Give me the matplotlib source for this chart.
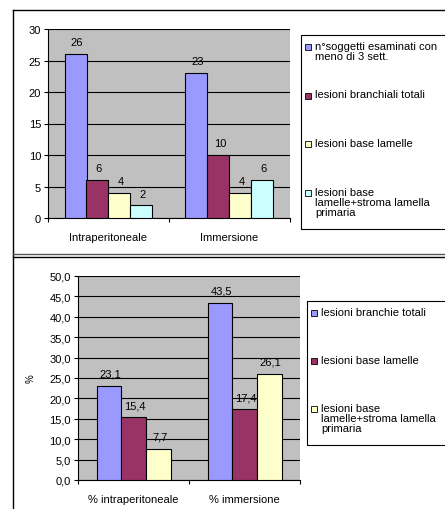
import numpy as np
import matplotlib
matplotlib.use("Agg")
import matplotlib.pyplot as plt
from matplotlib.patches import Rectangle
from matplotlib.lines import Line2D

plt.rcParams["font.family"] = ["Liberation Sans", "DejaVu Sans"]

# --- dati grafico 1 (numero soggetti) ---
cat1 = ["Intraperitoneale", "Immersione"]
ser1 = ["n°soggetti esaminati con\nmeno di 3 sett.",
        "lesioni branchiali totali",
        "lesioni base lamelle",
        "lesioni base\nlamelle+stroma lamella\nprimaria"]
val1 = [[26, 23], [6, 10], [4, 4], [2, 6]]
ticks1 = [0, 5, 10, 15, 20, 25, 30]

# --- dati grafico 2 (percentuali) ---
cat2 = ["% intraperitoneale", "% immersione"]
ser2 = ["lesioni branchie totali",
        "lesioni base lamelle",
        "lesioni base\nlamelle+stroma lamella\nprimaria"]
val2 = [[23.1, 43.5], [15.4, 17.4], [7.7, 26.1]]
ticks2 = [0, 5, 10, 15, 20, 25, 30, 35, 40, 45, 50]

col1 = ["#9999FF", "#993366", "#FFFFCC", "#CCFFFF"]
col2 = ["#9999FF", "#993366", "#FFFFCC"]

FS = 8
W, H = 445, 510
fig = plt.figure(figsize=(W / 100, H / 100), dpi=100)


def fx(px):
    return px / W


def fy(py):
    return 1 - py / H


def bar_chart(rect, cats, vals, cols, yticks, fmt):
    ax = fig.add_axes(rect)
    ax.set_facecolor("#C0C0C0")
    n = len(vals)
    w = 1 / (n + 1.5)
    x = np.arange(len(cats))
    for i, (v, c) in enumerate(zip(vals, cols)):
        xs = x + (i - (n - 1) / 2) * w
        ax.bar(xs, v, width=w, color=c, edgecolor="black", linewidth=0.8, zorder=3)
        for xi, vi in zip(xs, v):
            ax.annotate(fmt(vi), (xi, vi), xytext=(1, 8.5), textcoords="offset points",
                        ha="center", va="center", fontsize=FS, zorder=2)
    ax.set_xlim(-0.5, len(cats) - 0.5)
    ax.set_ylim(yticks[0], yticks[-1])
    ax.set_yticks(yticks)
    ax.set_yticklabels([fmt(t) for t in yticks], fontsize=FS)
    ax.yaxis.grid(True, color="black", linewidth=0.8, zorder=1)
    ax.set_axisbelow(True)
    ax.set_xticks(np.arange(len(cats) + 1) - 0.5)
    ax.set_xticklabels([])
    ax.set_xticks(x, minor=True)
    ax.set_xticklabels(cats, minor=True, fontsize=FS)
    ax.tick_params(axis="x", which="minor", length=0, pad=10)
    ax.tick_params(axis="x", which="major", length=3, direction="out")
    ax.tick_params(axis="y", length=3, direction="out", pad=2)
    for s in ["top", "right"]:
        ax.spines[s].set_visible(False)
    return ax


def legend_box(x0, y0, y1, labels, cols, step, tx):
    fig.patches.append(Rectangle((fx(x0), fy(y1)), fx(W + 5) - fx(x0), fy(y0) - fy(y1),
                                 transform=fig.transFigure, facecolor="white",
                                 edgecolor="black", linewidth=0.8))
    for i, (lab, c) in enumerate(zip(labels, cols)):
        ytop = y0 + 12 + i * step
        fig.patches.append(Rectangle((fx(tx - 10), fy(ytop + 3)), 6 / W, 6 / H,
                                     transform=fig.transFigure, facecolor=c,
                                     edgecolor="black", linewidth=0.6))
        fig.text(fx(tx), fy(ytop - 6), lab, fontsize=FS, ha="left", va="top",
                 linespacing=1.0, transform=fig.transFigure)


# --- grafico 1 ---
bar_chart([fx(48), fy(219), (290 - 48) / W, (219 - 30) / H], cat1, val1, col1, ticks1,
          lambda v: f"{v:.0f}")
legend_box(301, 36, 230, ser1, col1, 48.5, 315)

# --- grafico 2 ---
ax2 = bar_chart([fx(78), fy(481), (300 - 78) / W, (481 - 277) / H], cat2, val2, col2, ticks2,
                lambda v: f"{v:.1f}".replace(".", ","))
ax2.set_ylabel("%", fontsize=7, labelpad=10)
legend_box(307, 302, 446, ser2, col2, 48, 321)

# cornici dei due riquadri
for (xa, ya), (xb, yb), c in [((13, 11), (W + 5, 11), "black"),
                              ((13, 11), (13, 256), "black"),
                              ((13, 255), (W + 5, 255), "#555555"),
                              ((13, 257.5), (W + 5, 257.5), "black"),
                              ((13, 257), (13, H + 5), "black")]:
    fig.lines.append(Line2D([fx(xa), fx(xb)], [fy(ya), fy(yb)], color=c, linewidth=1.0,
                            transform=fig.transFigure))

fig.savefig("out.png", dpi=100)
